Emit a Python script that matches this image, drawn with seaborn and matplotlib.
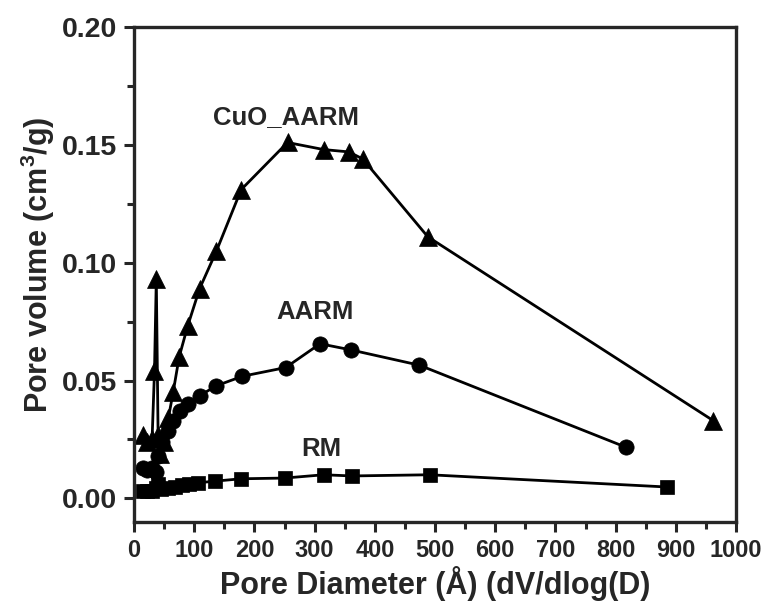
import matplotlib
matplotlib.use("Agg")
import matplotlib.pyplot as plt
import seaborn as sns
import pandas as pd
from matplotlib.ticker import MultipleLocator

# ---- data ----
cuo_x = [15, 22, 30, 34, 37, 40, 43, 50, 57, 65, 75, 89, 109, 137, 178, 255, 315, 357, 380, 488, 962]
cuo_y = [0.027, 0.024, 0.025, 0.054, 0.093, 0.027, 0.019, 0.024, 0.034, 0.045, 0.060, 0.073, 0.089, 0.105,
         0.131, 0.151, 0.148, 0.147, 0.144, 0.111, 0.033]

aarm_x = [15, 22, 30, 36, 40, 47, 56, 64, 76, 90, 109, 136, 180, 252, 309, 360, 474, 818]
aarm_y = [0.0128, 0.012, 0.013, 0.011, 0.018, 0.024, 0.0286, 0.033, 0.0369, 0.040, 0.0435, 0.0477,
          0.0518, 0.0555, 0.0656, 0.063, 0.0565, 0.0216]

rm_x = [15, 22, 30, 36, 40, 45, 56, 68, 80, 92, 106, 135, 178, 250, 315, 362, 491, 886]
rm_y = [0.0033, 0.0030, 0.0030, 0.0045, 0.0060, 0.0040, 0.0042, 0.0048, 0.0056, 0.0061, 0.0066,
        0.0073, 0.0083, 0.0086, 0.0100, 0.0095, 0.0100, 0.0048]

series_names = ["CuO_AARM", "AARM", "RM"]
label_pos = {"CuO_AARM": (252, 0.162), "AARM": (301, 0.079), "RM": (311, 0.021)}

x_ticks = list(range(0, 1001, 100))
y_ticks = [0.00, 0.05, 0.10, 0.15, 0.20]

sns.set_style("ticks")
plt.rcParams['font.family'] = ['Liberation Sans', 'DejaVu Sans']
plt.rcParams['font.weight'] = 'bold'
plt.rcParams['mathtext.fontset'] = 'custom'
plt.rcParams['mathtext.bf'] = 'Liberation Sans:bold'
plt.rcParams['mathtext.rm'] = 'Liberation Sans:bold'

fig = plt.figure(figsize=(7.72, 6.14), dpi=100)
ax = fig.add_axes([0.1736, 0.150, 0.7798, 0.806])

df_cuo = pd.DataFrame({"x": cuo_x, "y": cuo_y})
df_aarm = pd.DataFrame({"x": aarm_x, "y": aarm_y})
df_rm = pd.DataFrame({"x": rm_x, "y": rm_y})

common = dict(ax=ax, x="x", y="y", sort=False, estimator=None, color="black",
              linewidth=2, markeredgecolor="black", markeredgewidth=0.5)
sns.lineplot(data=df_cuo, marker="^", markersize=12.5, **common)
sns.lineplot(data=df_aarm, marker="o", markersize=11, **common)
sns.lineplot(data=df_rm, marker="s", markersize=9.5, **common)

for name in series_names:
    lx, ly = label_pos[name]
    ax.text(lx, ly, name, ha="center", va="center", fontsize=18.5, fontweight="bold")

ax.set_xlim(0, 1000)
ax.set_ylim(-0.010, 0.20)
ax.set_xticks(x_ticks)
ax.set_yticks(y_ticks)
ax.set_yticklabels([f"{v:.2f}" for v in y_ticks])
ax.xaxis.set_minor_locator(MultipleLocator(50))
ax.yaxis.set_minor_locator(MultipleLocator(0.025))

for s in ax.spines.values():
    s.set_linewidth(2.4)
    s.set_visible(True)
ax.tick_params(axis="both", which="major", direction="out", length=7.5, width=2.2, pad=5)
ax.tick_params(axis="both", which="minor", direction="out", length=5, width=2.2)
ax.tick_params(axis="x", which="major", labelsize=17)
ax.tick_params(axis="y", which="major", labelsize=20.5)
for lab in ax.get_xticklabels() + ax.get_yticklabels():
    lab.set_fontweight("bold")

ax.set_xlabel("Pore Diameter (Å) (dV/dlog(D)", fontsize=22, fontweight="bold")
ax.set_ylabel("Pore volume (cm$^{\\mathbf{3}}$/g)", fontsize=22, fontweight="bold")
ax.xaxis.set_label_coords(0.5, -0.09)
ax.yaxis.set_label_coords(-0.128, 0.52)

fig.savefig("out.png", dpi=100)
